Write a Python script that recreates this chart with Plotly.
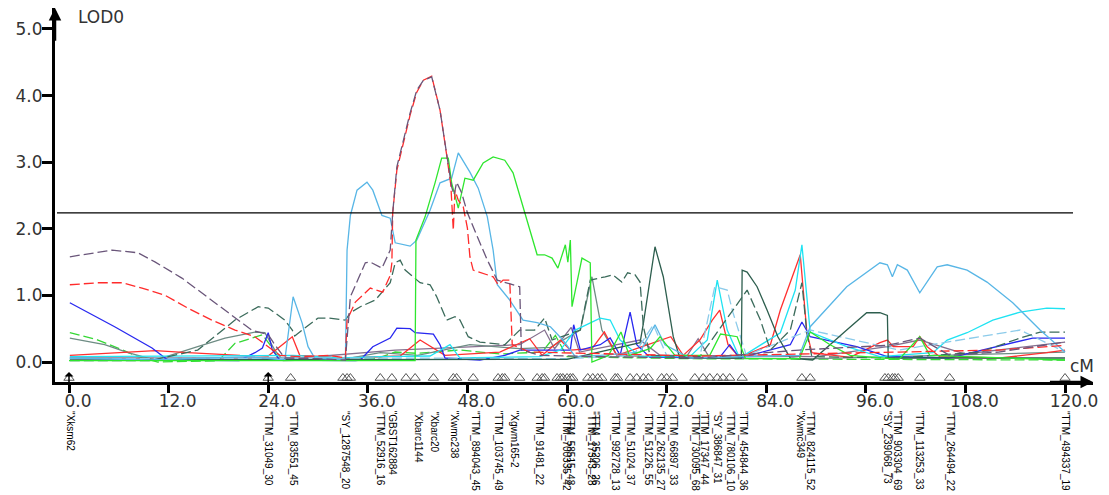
import plotly.graph_objects as go

# ---------------- data (cM, LOD) ----------------
purple_dash_x = [0.1, 5.2, 8.3, 10.4, 13.6, 16.4, 19.2, 22.0, 24.0, 24.8, 26.0, 30.0, 33.3, 33.9, 35.7, 36.3, 37.7, 38.7, 39.0, 39.5, 41.1, 41.9, 42.7, 43.7, 44.7, 45.5, 46.1, 46.4, 46.7, 47.3, 48.0, 49.2, 50.4, 51.6, 52.8, 54.3, 54.5, 56.7, 64.0, 76.0, 88.0, 98.6, 102.5, 106.1, 112.0, 120.0]
purple_dash_y = [1.58, 1.68, 1.64, 1.50, 1.26, 1.00, 0.74, 0.48, 0.41, 0.26, 0.06, 0.05, 0.03, 0.98, 1.49, 1.50, 1.41, 1.68, 2.24, 2.93, 3.74, 4.08, 4.23, 4.28, 3.78, 3.14, 2.63, 2.51, 2.70, 2.54, 2.24, 1.88, 1.53, 1.23, 1.19, 1.13, 0.18, 0.10, 0.08, 0.06, 0.18, 0.25, 0.36, 0.10, 0.15, 0.30]

red_dash_x = [0.1, 3.5, 6.4, 8.8, 11.6, 14.3, 17.2, 20.0, 22.4, 24.0, 25.4, 27.8, 31.4, 33.3, 33.5, 34.5, 36.3, 37.8, 38.7, 38.9, 39.0, 39.5, 41.1, 41.9, 42.7, 43.7, 44.7, 45.5, 46.0, 46.3, 46.5, 46.9, 47.5, 48.0, 48.3, 48.7, 49.5, 51.1, 51.7, 52.3, 53.1, 53.4, 55.5, 76.0, 100.0, 112.0, 120.0]
red_dash_y = [1.16, 1.19, 1.19, 1.11, 1.00, 0.81, 0.63, 0.48, 0.38, 0.23, 0.10, 0.08, 0.10, 0.06, 0.63, 0.90, 1.11, 1.05, 1.30, 1.49, 2.24, 2.88, 3.71, 4.05, 4.23, 4.29, 3.78, 3.11, 2.66, 1.98, 2.58, 2.43, 2.33, 2.01, 1.58, 1.38, 1.35, 1.28, 1.16, 1.23, 1.23, 0.26, 0.15, 0.09, 0.15, 0.18, 0.25]

lightblue_x = [0.1, 9.8, 21.8, 26.0, 27.0, 28.1, 28.8, 29.6, 33.3, 33.5, 33.9, 34.7, 35.9, 36.6, 37.7, 38.7, 39.3, 41.1, 41.9, 43.5, 44.7, 46.1, 46.9, 48.3, 49.3, 50.4, 51.1, 51.6, 53.1, 54.7, 56.4, 58.0, 59.5, 61.0, 64.0, 68.8, 70.6, 71.8, 74.8, 83.0, 88.0, 89.3, 93.7, 97.7, 98.6, 99.2, 99.8, 101.0, 102.5, 104.6, 105.8, 108.2, 110.6, 113.7, 117.0, 120.0]
lightblue_y = [0.06, 0.03, 0.08, 0.03, 0.98, 0.58, 0.23, 0.06, 0.03, 1.68, 2.20, 2.58, 2.70, 2.58, 2.20, 2.16, 1.79, 1.74, 1.83, 2.28, 2.69, 2.76, 3.14, 2.85, 2.61, 2.18, 1.68, 1.16, 0.93, 0.63, 0.59, 0.53, 0.33, 0.08, 0.10, 0.15, 0.56, 0.26, 0.06, 0.08, 0.10, 0.53, 1.13, 1.49, 1.46, 1.28, 1.46, 1.38, 1.04, 1.43, 1.46, 1.38, 1.20, 0.89, 0.48, 0.15]

green_x = [0.0, 20.0, 41.7, 41.8, 42.9, 44.1, 44.9, 45.7, 46.1, 46.9, 47.7, 48.7, 49.9, 51.1, 52.5, 53.5, 54.7, 56.4, 57.3, 58.2, 58.9, 59.8, 60.1, 60.4, 60.6, 61.8, 62.8, 63.0, 65.0, 66.5, 67.5, 70.0, 71.2, 73.0, 77.2, 78.5, 80.5, 81.5, 88.0, 89.3, 91.7, 94.1, 100.0, 102.5, 103.7, 120.0]
green_y = [0.02, 0.02, 0.02, 1.83, 2.18, 2.69, 3.06, 3.06, 2.69, 2.31, 2.76, 2.73, 2.99, 3.08, 3.03, 2.84, 2.33, 1.61, 1.61, 1.56, 1.41, 1.76, 1.50, 1.83, 0.83, 1.56, 1.49, 0.00, 0.10, 0.45, 0.10, 0.20, 0.38, 0.10, 0.10, 0.42, 0.38, 0.05, 0.05, 0.45, 0.26, 0.10, 0.04, 0.38, 0.10, 0.03]

green_dash_x = [0.1, 3.5, 5.9, 8.3, 10.7, 18.0, 20.0, 23.3, 24.2, 25.4, 37.0, 39.3, 42.0, 47.1, 52.0, 57.0, 58.6, 60.0, 75.0, 95.0, 120.0]
green_dash_y = [0.44, 0.33, 0.21, 0.08, 0.00, 0.02, 0.28, 0.41, 0.26, 0.03, 0.05, 0.15, 0.13, 0.18, 0.12, 0.15, 0.40, 0.08, 0.05, 0.04, 0.03]

darkteal_x = [0.1, 30.0, 60.0, 68.8, 69.2, 70.6, 71.6, 72.8, 73.6, 81.0, 81.1, 81.7, 82.9, 84.1, 85.4, 86.9, 89.6, 93.7, 96.1, 97.7, 98.6, 98.7, 120.0]
darkteal_y = [0.03, 0.03, 0.04, 0.29, 0.58, 1.73, 1.28, 0.38, 0.06, 0.06, 1.38, 1.35, 1.13, 0.78, 0.38, 0.06, 0.03, 0.48, 0.74, 0.74, 0.70, 0.06, 0.06]

darkteal_dash_x = [0.1, 9.8, 15.5, 20.0, 22.8, 24.0, 24.8, 26.0, 26.9, 27.2, 28.1, 30.0, 31.2, 33.3, 33.9, 35.1, 36.9, 38.7, 39.3, 39.9, 40.5, 42.3, 43.5, 44.3, 45.5, 46.5, 47.1, 48.1, 49.5, 52.5, 54.3, 56.1, 57.3, 58.2, 61.6, 62.8, 64.6, 65.5, 66.6, 67.3, 68.2, 68.8, 69.2, 70.0, 76.0, 81.7, 83.3, 84.5, 86.9, 88.3, 88.9, 89.5, 100.0, 109.8, 114.6, 117.0, 120.0]
darkteal_dash_y = [0.02, 0.02, 0.18, 0.63, 0.83, 0.81, 0.74, 0.63, 0.48, 0.39, 0.48, 0.66, 0.66, 0.63, 0.74, 0.83, 0.93, 1.19, 1.49, 1.53, 1.38, 1.19, 1.16, 0.98, 0.63, 0.68, 0.63, 0.38, 0.30, 0.26, 0.48, 0.48, 0.66, 0.33, 0.48, 1.23, 1.28, 1.31, 1.20, 1.34, 1.31, 1.20, 0.53, 0.10, 0.08, 1.08, 0.63, 0.18, 0.48, 1.19, 0.43, 0.08, 0.06, 0.15, 0.36, 0.45, 0.45]

grayteal_x = [0.1, 4.3, 7.1, 10.4, 15.5, 18.8, 22.4, 23.6, 24.8, 25.8, 33.0, 37.5, 42.0, 48.3, 54.3, 58.0, 61.6, 63.0, 64.2, 66.0, 75.0, 90.0, 120.0]
grayteal_y = [0.36, 0.26, 0.14, 0.03, 0.23, 0.36, 0.45, 0.44, 0.18, 0.02, 0.04, 0.14, 0.10, 0.26, 0.20, 0.22, 0.48, 1.28, 0.48, 0.10, 0.06, 0.05, 0.15]

blue_x = [0.1, 5.5, 10.0, 11.9, 20.5, 22.4, 23.3, 24.0, 24.5, 25.4, 34.5, 35.1, 36.6, 38.7, 39.5, 41.1, 41.7, 43.9, 44.7, 45.3, 49.5, 52.5, 54.3, 60.4, 60.8, 61.6, 64.0, 65.2, 66.4, 67.6, 68.4, 70.0, 78.4, 79.6, 80.8, 86.9, 88.3, 89.3, 94.9, 98.6, 106.0, 113.7, 116.1, 120.0]
blue_y = [0.89, 0.53, 0.21, 0.03, 0.02, 0.14, 0.21, 0.44, 0.18, 0.03, 0.02, 0.03, 0.23, 0.36, 0.51, 0.50, 0.44, 0.42, 0.26, 0.06, 0.03, 0.10, 0.18, 0.18, 0.56, 0.18, 0.26, 0.36, 0.10, 0.75, 0.26, 0.07, 0.07, 0.26, 0.06, 0.26, 0.60, 0.38, 0.23, 0.08, 0.06, 0.29, 0.36, 0.36]

cyan_x = [0.1, 15.6, 24.0, 27.0, 32.6, 37.5, 43.5, 45.9, 47.1, 56.7, 59.2, 61.0, 64.0, 65.2, 66.4, 68.8, 74.8, 76.9, 78.1, 78.8, 79.3, 80.8, 85.7, 87.5, 88.3, 89.3, 93.7, 97.7, 104.1, 105.8, 108.2, 111.3, 114.6, 117.8, 120.0]
cyan_y = [0.08, 0.09, 0.10, 0.10, 0.06, 0.08, 0.09, 0.26, 0.06, 0.08, 0.18, 0.48, 0.66, 0.63, 0.33, 0.08, 0.08, 0.33, 1.23, 0.78, 0.48, 0.06, 0.44, 1.08, 1.76, 0.45, 0.23, 0.08, 0.14, 0.33, 0.44, 0.63, 0.75, 0.81, 0.80]

red_x = [0.1, 10.4, 14.3, 20.6, 24.0, 26.9, 27.8, 33.3, 39.9, 42.3, 45.3, 51.9, 55.5, 57.0, 59.2, 60.4, 63.0, 64.5, 66.0, 69.5, 72.5, 74.0, 76.0, 77.5, 78.4, 79.4, 80.8, 84.5, 85.7, 88.1, 88.9, 89.5, 94.1, 97.7, 98.6, 99.3, 101.7, 102.5, 103.4, 104.9, 112.2, 117.8, 120.0]
red_y = [0.10, 0.17, 0.14, 0.10, 0.09, 0.38, 0.10, 0.06, 0.09, 0.33, 0.10, 0.15, 0.35, 0.10, 0.33, 0.18, 0.20, 0.45, 0.10, 0.25, 0.38, 0.10, 0.33, 0.63, 0.78, 0.26, 0.07, 0.26, 0.78, 1.61, 0.44, 0.14, 0.07, 0.29, 0.33, 0.23, 0.23, 0.38, 0.23, 0.08, 0.06, 0.14, 0.18]

purple_x = [0.1, 27.8, 39.3, 54.3, 57.3, 58.5, 60.5, 61.5, 68.8, 71.2, 74.5, 75.8, 77.0, 90.0, 98.6, 102.5, 108.0, 120.0]
purple_y = [0.06, 0.06, 0.18, 0.26, 0.48, 0.20, 0.52, 0.15, 0.33, 0.10, 0.10, 0.35, 0.10, 0.08, 0.23, 0.33, 0.12, 0.30]

lightblue_dash_x = [0.1, 40.0, 60.0, 68.0, 70.4, 72.0, 76.0, 77.8, 79.3, 80.0, 81.6, 89.3, 100.0, 114.6, 120.0]
lightblue_dash_y = [0.05, 0.06, 0.05, 0.10, 0.56, 0.10, 0.08, 1.13, 1.08, 0.74, 0.10, 0.48, 0.18, 0.48, 0.15]

# markers on the chromosome (cM)
marker_pos = [0.0, 24.0, 26.7, 33.0, 33.5, 33.9, 37.5, 38.9, 40.6, 41.7, 43.9, 46.3, 46.7, 48.7, 51.7, 52.2, 52.5, 54.3, 56.4, 57.0, 57.3, 58.8, 59.2, 59.5, 60.0, 60.4, 60.7, 62.5, 63.1, 63.7, 64.2, 65.8, 66.1, 67.6, 68.4, 69.2, 69.8, 71.4, 72.0, 72.7, 75.4, 76.4, 77.2, 78.1, 78.8, 79.6, 81.1, 88.3, 89.3, 98.3, 98.7, 99.2, 99.5, 99.9, 102.5, 106.1, 120.0]

label_pos = [0.1, 24.0, 27.0, 33.3, 37.5, 39.0, 42.0, 44.1, 46.4, 48.9, 51.7, 53.7, 56.7, 59.9, 60.4, 62.9, 63.4, 65.8, 67.6, 69.8, 71.2, 72.8, 75.4, 76.6, 78.1, 79.6, 81.2, 88.1, 89.3, 98.6, 99.8, 102.5, 106.1, 120.0]
label_text = ["Xksm62", "TTM_31049_30", "TTM_83551_45", "SY_1287548_20", "TTM_52916_16", "GBST162884",
              "Xbarc1144", "Xbarc20", "Xwmc238", "TTM_894043_45", "TTM_103745_49", "Xgwm165-2",
              "TTM_91481_22", "TTM_700335_42", "TTM_58515_48", "TTM_17343_28", "TTM_35206_26",
              "TTM_992728_13", "TTM_51024_37", "TTM_51226_55", "TTM_262135_27", "TTM_66897_33",
              "TTM_730095_68", "TTM_17347_44", "SY_386847_31", "TTM_780106_10", "TTM_454844_36",
              "Xwmc349", "TTM_824115_52", "SY_239068_73", "TTM_903304_69", "TTM_113253_33",
              "TTM_264494_22", "TTM_494337_19"]

x_ticks = [0, 12, 24, 36, 48, 60, 72, 84, 96, 108, 120]
y_ticks = [0, 1, 2, 3, 4, 5]
threshold = 2.24

# ---------------- figure ----------------
fig = go.Figure()

series = [
    (green_dash_x, green_dash_y, "#35d835", "10px,4px"),
    (purple_x, purple_y, "#85708f", "solid"),
    (grayteal_x, grayteal_y, "#6e8c84", "solid"),
    (red_x, red_y, "#ff3030", "solid"),
    (blue_x, blue_y, "#2828f0", "solid"),
    (cyan_x, cyan_y, "#1fe3f2", "solid"),
    (lightblue_dash_x, lightblue_dash_y, "#8ccbea", "10px,4px"),
    (darkteal_x, darkteal_y, "#2d5e4e", "solid"),
    (darkteal_dash_x, darkteal_dash_y, "#3b6b5b", "10px,4px"),
    (lightblue_x, lightblue_y, "#58b6e6", "solid"),
    (green_x, green_y, "#2ee62e", "solid"),
    (red_dash_x, red_dash_y, "#ff2b2b", "10px,4px"),
    (purple_dash_x, purple_dash_y, "#6a567a", "10px,4px"),
]
for xs, ys, col, dash in series:
    fig.add_trace(go.Scatter(x=xs, y=ys, mode="lines",
                             line=dict(color=col, width=1.3, dash=dash),
                             hoverinfo="skip", showlegend=False))

fig.add_trace(go.Scatter(x=marker_pos, y=[-0.24] * len(marker_pos), mode="markers",
                         marker=dict(symbol="triangle-up-open", size=9,
                                     line=dict(color="#555555", width=1), color="#555555"),
                         cliponaxis=False, hoverinfo="skip", showlegend=False))

x_lo, x_hi = -1.687, 123.37
y_lo, y_hi = -0.300, 5.315

fig.add_shape(type="line", x0=-1.45, x1=120.96, y0=threshold, y1=threshold,
              line=dict(color="black", width=1.3), layer="above")

# axis arrows
fig.add_annotation(x=x_lo, y=y_hi, ax=x_lo, ay=4.8, xref="x", yref="y", axref="x", ayref="y",
                   showarrow=True, arrowhead=2, arrowsize=1, arrowwidth=2.5, arrowcolor="black", text="")
fig.add_annotation(x=x_hi, y=y_lo, ax=118.0, ay=y_lo, xref="x", yref="y", axref="x", ayref="y",
                   showarrow=True, arrowhead=2, arrowsize=1, arrowwidth=2.5, arrowcolor="black", text="")
for p in (0.0, 24.0):
    fig.add_annotation(x=p, y=-0.15, ax=p, ay=-0.45, xref="x", yref="y", axref="x", ayref="y",
                       showarrow=True, arrowhead=1, arrowsize=1, arrowwidth=1.5, arrowcolor="black", text="")

fig.add_annotation(x=0.0202, y=0.976, xref="paper", yref="paper", text="LOD0", showarrow=False,
                   xanchor="left", yanchor="middle", font=dict(family="DejaVu Sans", size=17, color="#333333"))
fig.add_annotation(x=0.976, y=0.043, xref="paper", yref="paper", text="cM", showarrow=False,
                   xanchor="left", yanchor="middle", font=dict(family="DejaVu Sans", size=17, color="#333333"))

for p, t in zip(label_pos, label_text):
    fig.add_annotation(x=p, y=-0.072, xref="x", yref="paper", text='"' + t, showarrow=False,
                       textangle=90, xanchor="center", yanchor="top",
                       font=dict(family="Liberation Sans", size=10, color="black"))

fig.update_layout(
    width=1101, height=487,
    margin=dict(l=47, r=16, t=0, b=113),
    paper_bgcolor="white", plot_bgcolor="white",
    xaxis=dict(range=[x_lo, x_hi], tickvals=x_ticks, ticktext=[f"{v:.1f}" for v in x_ticks],
               showgrid=False, zeroline=False, showline=True, linecolor="black", linewidth=3,
               ticks="outside", ticklen=8, tickwidth=3, tickcolor="black", ticklabelshift=9,
               ticklabelstandoff=-6,
               tickfont=dict(family="DejaVu Sans", size=17, color="#333333")),
    yaxis=dict(range=[y_lo, y_hi], tickvals=y_ticks, ticktext=[f"{v:.1f}" for v in y_ticks],
               showgrid=False, zeroline=False, showline=True, linecolor="black", linewidth=3,
               ticks="outside", ticklen=10, tickwidth=3, tickcolor="black",
               ticklabelstandoff=-4,
               tickfont=dict(family="DejaVu Sans", size=17, color="#333333")),
)

fig.write_html("out.html")
